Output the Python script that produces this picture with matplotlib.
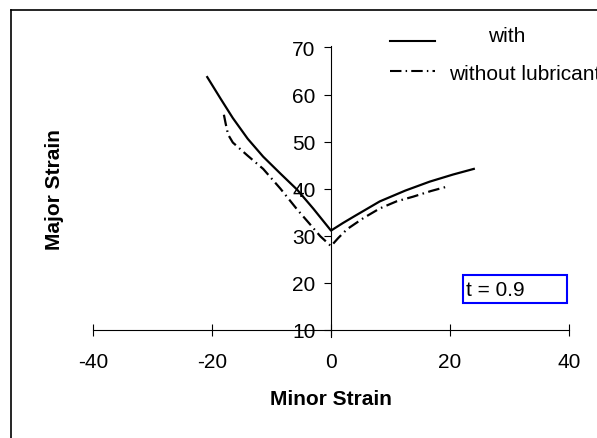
import matplotlib
matplotlib.use('Agg')
import matplotlib.pyplot as plt
from matplotlib.lines import Line2D
from matplotlib.patches import Rectangle

plt.rcParams['font.family'] = ['Liberation Sans', 'DejaVu Sans']
plt.rcParams['axes.unicode_minus'] = False

# strain values
with_x = [-20.8, -18.5, -16.5, -14.0, -11.4, -8.5, -5.7, -3.0, 0.0, 2.0, 4.0, 8.2, 12.5, 16.6, 20.5, 24.0]
with_y = [63.7, 59.0, 55.0, 50.6, 46.8, 43.2, 39.8, 35.8, 31.1, 32.7, 34.2, 37.3, 39.6, 41.5, 43.0, 44.2]

without_x = [-18.0, -17.7, -17.3, -16.5, -14.0, -11.4, -8.5, -5.7, -3.5, -1.8, 0.0, 1.2, 2.7, 5.5, 8.2, 11.0, 13.8, 16.8, 19.7]
without_y = [55.7, 53.8, 51.5, 49.8, 47.0, 44.2, 40.0, 35.6, 32.4, 29.9, 27.8, 29.5, 31.4, 33.8, 35.8, 37.3, 38.3, 39.5, 40.5]

x_ticks = [-40, -20, 0, 20, 40]
y_ticks = [10, 20, 30, 40, 50, 60, 70]

fig = plt.figure(figsize=(5.97, 4.39), dpi=100)
ax = fig.add_axes([93 / 597, 1 - 338 / 439, 476 / 597, 291 / 439])

ax.plot(with_x, with_y, color='black', lw=1.6, solid_joinstyle='round')
ax.plot(without_x, without_y, color='black', lw=1.6, dashes=(5.2, 2.0, 0.7, 2.0))

ax.set_xlim(-40, 40)
ax.set_ylim(8.5, 70.3)
ax.set_xticks(x_ticks)
ax.set_yticks(y_ticks)

ax.spines['left'].set_position(('data', 0))
ax.spines['bottom'].set_position(('data', 10))
ax.spines['right'].set_visible(False)
ax.spines['top'].set_visible(False)
ax.tick_params(axis='x', direction='inout', length=8, labelsize=15, pad=12)
ax.tick_params(axis='y', direction='out', length=5, labelsize=15, pad=6)

fig.text(331 / 597, 1 - 400 / 439, 'Minor Strain', ha='center', va='center',
         fontsize=15, fontweight='bold')
fig.text(55 / 597, 1 - 190 / 439, 'Major Strain', ha='center', va='center',
         fontsize=15, fontweight='bold', rotation=90)

# legend drawn by hand, it runs off the right edge like the original
fig.add_artist(Line2D([390 / 597, 435 / 597], [1 - 42 / 439] * 2, color='black', lw=1.5))
fig.add_artist(Line2D([390 / 597, 435 / 597], [1 - 72 / 439] * 2, color='black', lw=1.5,
                      dashes=(5.5, 2.0, 0.7, 2.0)))
fig.text(488 / 597, 1 - 37 / 439, 'with', ha='left', va='center', fontsize=15)
fig.text(449 / 597, 1 - 74 / 439, 'without lubricant', ha='left', va='center', fontsize=15)

# t box
fig.add_artist(Rectangle((463 / 597, 1 - 304 / 439), 104 / 597, 28 / 439,
                         fill=False, edgecolor='blue', lw=1.5))
fig.text(466 / 597, 1 - 290 / 439, 't = 0.9', ha='left', va='center', fontsize=15)

# outer frame (left and top only)
fig.add_artist(Line2D([11 / 597, 11 / 597], [0, 1 - 11 / 439], color='black', lw=1.2))
fig.add_artist(Line2D([11 / 597, 1], [1 - 11 / 439] * 2, color='black', lw=1.2))

fig.savefig('out.png', dpi=100)
